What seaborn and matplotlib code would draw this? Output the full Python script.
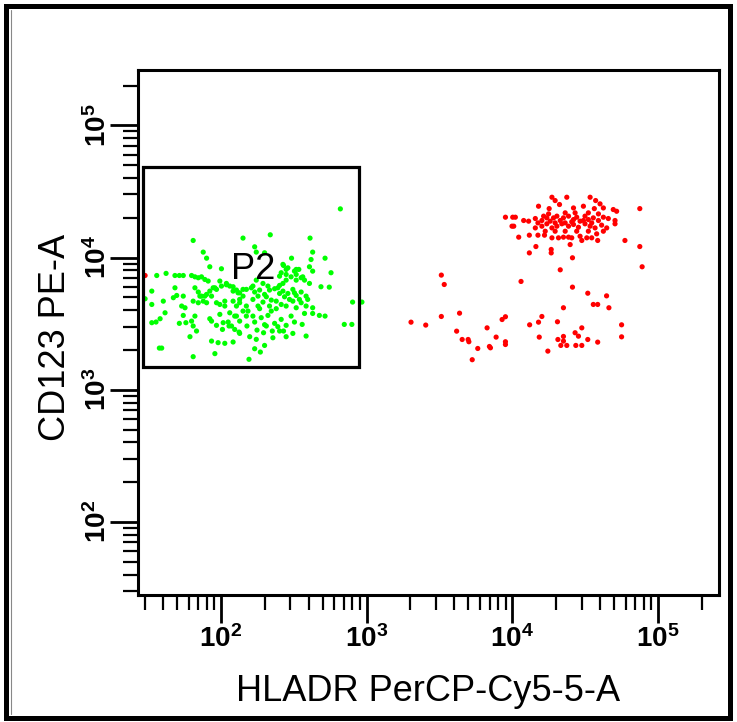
import numpy as np
import pandas as pd
import matplotlib
matplotlib.use("Agg")
import matplotlib.pyplot as plt
import seaborn as sns
from matplotlib.patches import Rectangle
from matplotlib.lines import Line2D
from matplotlib.ticker import LogLocator, FuncFormatter, NullFormatter

# ---- data (log10 fluorescence intensities) ----
green_hladr_log = [
    2.820, 1.810, 2.152, 2.339, 2.612, 2.232, 2.300, 2.243, 1.879, 1.902,
    2.630, 2.619, 2.485, 2.715, 1.924, 2.004, 2.430, 2.460, 2.517, 2.608,
    2.630, 2.756, 1.560, 1.624, 1.685, 1.715, 1.742, 1.799, 1.822, 1.845,
    1.867, 1.890, 1.913, 2.403, 2.448, 2.482, 2.517, 2.551, 2.574, 2.608,
    1.993, 2.038, 1.947, 2.687, 2.744, 1.526, 1.685, 1.697, 1.742, 1.822,
    1.845, 1.867, 1.902, 1.924, 1.959, 2.004, 2.038, 2.084, 2.107, 2.129,
    2.152, 2.175, 2.209, 2.232, 2.266, 2.300, 2.334, 2.369, 2.403, 2.426,
    2.460, 2.494, 2.517, 2.551, 2.585, 1.480, 1.526, 1.605, 1.674, 1.731,
    1.754, 1.845, 1.879, 1.902, 1.970, 2.027, 2.084, 2.107, 2.129, 2.175,
    2.220, 2.255, 2.289, 2.334, 2.380, 2.414, 2.448, 2.494, 2.517, 2.551,
    2.585, 2.630, 2.676, 2.904, 2.968, 1.617, 1.583, 1.555, 1.526, 1.742,
    1.822, 1.924, 1.993, 2.050, 2.095, 2.129, 2.175, 2.232, 2.277, 2.323,
    2.369, 2.414, 2.448, 2.505, 2.558, 2.574, 2.630, 2.715, 1.715, 1.760,
    1.799, 1.970, 2.011, 2.056, 2.095, 2.125, 2.179, 2.248, 2.300, 2.353,
    2.391, 2.847, 2.899, 1.788, 1.833, 1.936, 1.981, 2.027, 2.084, 2.129,
    2.198, 2.243, 2.293, 2.357, 2.430, 2.494, 2.448, 2.585, 1.594, 1.578,
    2.232, 2.300, 2.271, 1.810, 1.959, 2.193,
    2.426, 2.448, 2.414, 2.505, 2.535, 2.562, 2.517, 2.448, 2.426, 2.391,
    2.403, 2.437, 2.471, 2.505, 2.539, 2.596, 2.243, 2.289, 2.323, 2.220,
    2.255, 2.312, 2.346, 2.266, 2.346, 2.380, 2.186, 2.220, 2.061, 2.084,
    2.118, 2.152, 2.129, 1.970, 1.936, 1.856, 1.890, 1.810, 2.027, 1.993,
    2.061, 2.107, 2.152, 1.810, 2.016, 2.073, 1.936, 2.312, 2.403, 2.482,
]
green_cd123_log = [
    4.368, 4.129, 4.147, 4.172, 4.147, 4.081, 4.036, 4.041, 4.041, 3.995,
    4.041, 3.985, 3.995, 3.995, 3.930, 3.915, 3.940, 3.922, 3.910, 3.930,
    3.897, 3.885, 3.864, 3.880, 3.864, 3.864, 3.864, 3.864, 3.854, 3.847,
    3.854, 3.834, 3.822, 3.859, 3.872, 3.854, 3.872, 3.847, 3.829, 3.804,
    3.822, 3.804, 3.771, 3.779, 3.776, 3.746, 3.771, 3.713, 3.708, 3.771,
    3.739, 3.708, 3.721, 3.746, 3.771, 3.784, 3.794, 3.779, 3.754, 3.733,
    3.708, 3.759, 3.771, 3.739, 3.754, 3.721, 3.754, 3.764, 3.789, 3.746,
    3.728, 3.759, 3.713, 3.739, 3.708, 3.688, 3.645, 3.670, 3.696, 3.633,
    3.620, 3.658, 3.670, 3.658, 3.658, 3.633, 3.670, 3.633, 3.658, 3.633,
    3.683, 3.633, 3.663, 3.633, 3.670, 3.645, 3.633, 3.670, 3.620, 3.658,
    3.633, 3.620, 3.562, 3.663, 3.663, 3.582, 3.537, 3.512, 3.507, 3.562,
    3.557, 3.537, 3.570, 3.512, 3.557, 3.519, 3.557, 3.512, 3.545, 3.562,
    3.502, 3.532, 3.487, 3.512, 3.494, 3.577, 3.577, 3.557, 3.502, 3.507,
    3.519, 3.487, 3.456, 3.482, 3.456, 3.436, 3.482, 3.451, 3.492, 3.444,
    3.477, 3.494, 3.494, 3.401, 3.444, 3.368, 3.356, 3.351, 3.361, 3.426,
    3.401, 3.381, 3.431, 3.393, 3.444, 3.426, 3.401, 3.406, 3.315, 3.315,
    3.310, 3.335, 3.285, 3.250, 3.273, 3.230,
    3.948, 3.910, 3.885, 3.897, 3.910, 3.854, 3.829, 3.829, 3.804, 3.771,
    3.728, 3.703, 3.683, 3.733, 3.683, 3.683, 3.829, 3.804, 3.784, 3.784,
    3.708, 3.703, 3.678, 3.613, 3.595, 3.613, 3.595, 3.557, 3.784, 3.746,
    3.733, 3.759, 3.683, 3.759, 3.708, 3.708, 3.708, 3.670, 3.670, 3.645,
    3.582, 3.557, 3.595, 3.482, 3.507, 3.482, 3.519, 3.482, 3.444, 3.557,
]
red_hladr_log = [
    4.272, 4.294, 4.374, 4.534, 4.572, 4.602, 4.324, 4.420, 4.488, 4.180,
    4.253, 4.563, 4.625, 4.693, 4.716, 4.875, 3.953, 4.003, 4.021, 4.078,
    4.158, 4.176, 4.215, 4.237, 4.260, 4.283, 4.306, 4.329, 4.351, 4.386,
    4.420, 4.442, 4.465, 4.499, 4.522, 4.556, 4.591, 4.625, 4.659, 4.705,
    4.705, 3.998, 4.010, 4.158, 4.203, 4.237, 4.272, 4.306, 4.340, 4.386,
    4.420, 4.454, 4.499, 4.534, 4.568, 4.613, 4.648, 4.044, 4.117, 4.176,
    4.221, 4.272, 4.317, 4.351, 4.386, 4.408, 4.465, 4.477, 4.511, 4.545,
    4.579, 4.586, 4.397, 4.773, 4.875, 4.162, 4.117, 4.267, 4.267, 4.413,
    4.329, 4.891,
    4.203, 4.249, 4.363, 4.431, 4.522, 4.591, 4.408, 4.488, 4.545, 4.294,
    4.363, 4.442, 4.522, 4.294, 4.363, 4.226, 4.625, 4.112,
    3.513, 3.533, 4.060, 4.413, 4.518, 4.647, 4.556, 4.586, 4.663, 4.351,
    3.305, 3.406, 3.513, 3.638, 3.618, 3.656, 3.697, 3.702, 3.763, 3.725,
    3.827, 3.843, 3.850, 3.889, 3.930, 3.953, 3.953, 3.953, 4.119, 4.180,
    4.203, 4.185, 4.310, 4.244, 4.313, 4.351, 4.351, 4.333, 4.374, 4.431,
    4.454, 4.477, 4.436, 4.477, 4.518, 4.586, 4.750, 4.750,
    1.480,
]
red_cd123_log = [
    4.456, 4.431, 4.456, 4.456, 4.431, 4.406, 4.401, 4.375, 4.388, 4.388,
    4.370, 4.370, 4.375, 4.363, 4.350, 4.370, 4.305, 4.305, 4.305, 4.280,
    4.295, 4.262, 4.313, 4.300, 4.275, 4.300, 4.313, 4.280, 4.300, 4.313,
    4.287, 4.305, 4.275, 4.313, 4.287, 4.300, 4.280, 4.305, 4.295, 4.280,
    4.255, 4.237, 4.237, 4.224, 4.237, 4.255, 4.224, 4.237, 4.255, 4.237,
    4.250, 4.229, 4.255, 4.237, 4.224, 4.245, 4.224, 4.154, 4.169, 4.169,
    4.169, 4.149, 4.149, 4.154, 4.154, 4.149, 4.161, 4.129, 4.149, 4.149,
    4.179, 4.129, 4.098, 4.129, 4.083, 4.083, 4.035, 4.061, 4.035, 3.998,
    3.907, 3.930,
    4.280, 4.330, 4.338, 4.338, 4.338, 4.330, 4.270, 4.280, 4.262, 4.262,
    4.262, 4.199, 4.199, 4.199, 4.199, 4.199, 4.199, 4.275,
    3.867, 3.796, 3.819, 3.776, 3.730, 3.710, 3.645, 3.645, 3.620, 3.620,
    3.511, 3.489, 3.554, 3.579, 3.443, 3.380, 3.380, 3.363, 3.312, 3.227,
    3.468, 3.327, 3.317, 3.398, 3.531, 3.552, 3.363, 3.342, 3.491, 3.511,
    3.554, 3.398, 3.514, 3.292, 3.380, 3.403, 3.368, 3.335, 3.335, 3.431,
    3.405, 3.468, 3.335, 3.335, 3.380, 3.360, 3.491, 3.400,
    3.864,
]
gate_hladr = [29, 890]
gate_cd123 = [1480, 48000]
gate_name = "P2"
gate_label_pos = [166, 8100]
x_limits = [27, 262144]
y_limits = [28, 262144]
x_title = "HLADR PerCP-Cy5-5-A"
y_title = "CD123 PE-A"

# ---- style ----
sns.set_theme(style="white")
plt.rcParams["font.family"] = ["Liberation Sans", "DejaVu Sans"]
plt.rcParams["mathtext.fontset"] = "custom"
plt.rcParams["mathtext.rm"] = "Liberation Sans:bold"
plt.rcParams["mathtext.bf"] = "Liberation Sans:bold"
plt.rcParams["mathtext.it"] = "Liberation Sans:bold"

df = pd.DataFrame({
    "HLADR": np.power(10.0, np.array(green_hladr_log + red_hladr_log)),
    "CD123": np.power(10.0, np.array(green_cd123_log + red_cd123_log)),
    "pop": ["P2"] * len(green_hladr_log) + ["other"] * len(red_hladr_log),
})

W, H = 737, 722
fig = plt.figure(figsize=(W / 100, H / 100), dpi=100)
fig.patch.set_facecolor("white")
ax = fig.add_axes([138 / W, 1 - 595 / H, (719 - 138) / W, (595 - 70) / H])
ax.set_xscale("log")
ax.set_yscale("log")

sns.scatterplot(data=df, x="HLADR", y="CD123", hue="pop",
                palette={"P2": "#00ff00", "other": "#ff0000"},
                s=14, linewidth=0, legend=False, ax=ax, zorder=2)

ax.set_xlim(*x_limits)
ax.set_ylim(*y_limits)

# gate
ax.add_patch(Rectangle((gate_hladr[0], gate_cd123[0]),
                       gate_hladr[1] - gate_hladr[0],
                       gate_cd123[1] - gate_cd123[0],
                       fill=False, edgecolor="black", linewidth=2.3, zorder=3))
ax.text(gate_label_pos[0], gate_label_pos[1], gate_name, ha="center", va="center",
        fontsize=26, color="black", zorder=4)

# axes styling
for sp in ax.spines.values():
    sp.set_linewidth(2.2)
    sp.set_color("black")
    sp.set_visible(True)

fmt = FuncFormatter(lambda v, p: r"$\mathbf{10^{%d}}$" % int(round(np.log10(v))))
for axis in (ax.xaxis, ax.yaxis):
    axis.set_major_locator(LogLocator(base=10, numticks=20))
    axis.set_minor_locator(LogLocator(base=10, subs=np.arange(2, 10), numticks=20))
    axis.set_major_formatter(fmt)
    axis.set_minor_formatter(NullFormatter())

ax.tick_params(which="major", direction="out", length=20, width=2.0,
               color="black", labelsize=20, labelcolor="black")
ax.tick_params(which="minor", direction="out", length=11, width=1.6, color="black")
ax.tick_params(axis="x", which="major", pad=1.5, bottom=True)
ax.tick_params(axis="x", which="minor", bottom=True)
ax.tick_params(axis="y", which="major", pad=-1.5, labelrotation=90, left=True)
ax.tick_params(axis="y", which="minor", left=True)
for lab in ax.get_yticklabels():
    lab.set_va("center")

ax.set_xlabel(x_title, fontsize=26, color="black")
ax.set_ylabel(y_title, fontsize=26, color="black")
ax.xaxis.set_label_coords(0.5, -0.150)
ax.yaxis.set_label_coords(-0.112, 0.49)
ax.grid(False)

# outer frame
fig.add_artist(Rectangle((5.5 / W, 1 - 718 / H), (730 - 5.5) / W, (718 - 5.5) / H,
                         transform=fig.transFigure, fill=False,
                         edgecolor="black", linewidth=3.6))
fig.add_artist(Line2D([11 / W, 11 / W], [1 - 714 / H, 1 - 10 / H],
                      transform=fig.transFigure, color="#888888", linewidth=0.8))

fig.savefig("out.png", dpi=100, facecolor="white")
